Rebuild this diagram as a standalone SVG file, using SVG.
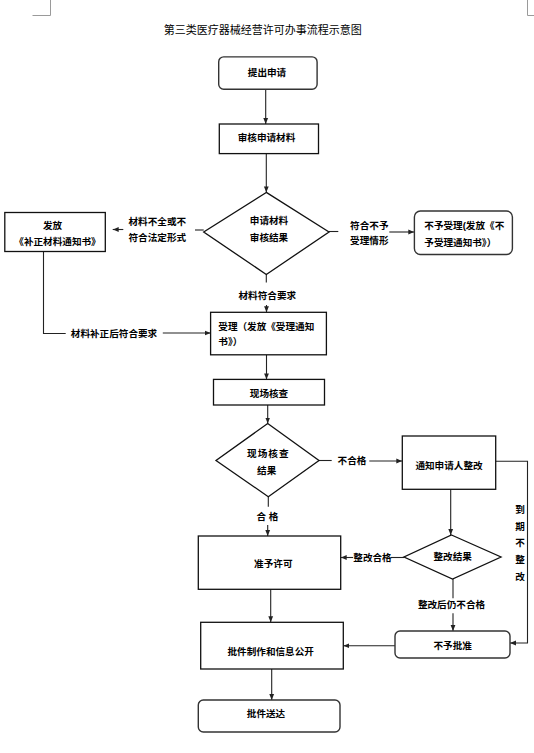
<svg xmlns="http://www.w3.org/2000/svg" width="534" height="753" viewBox="0 0 534 753">
<style>
.bg{fill:#fff}
.box{fill:#fff;stroke:#111;stroke-width:1.3}
.rbox{fill:#fff;stroke:#333;stroke-width:1.4}
.ln{fill:none;stroke:#222;stroke-width:1.1}
.mark{fill:none;stroke:#9a9a9a;stroke-width:1}
text{font-family:"Liberation Sans","Noto Sans CJK SC",sans-serif;font-size:9.6px;font-weight:bold;fill:#000;dominant-baseline:central}
.c{text-anchor:middle}
.title{font-size:11px;font-weight:normal}
</style>
<defs>
<marker id="arr" viewBox="0 0 10 10" refX="10" refY="5" markerWidth="6" markerHeight="6" markerUnits="userSpaceOnUse" orient="auto">
<path d="M0,1 L10,5 L0,9 z" fill="#222"/>
</marker>
</defs>
<rect class="bg" x="0" y="0" width="534" height="753"/>
<path class="mark" d="M32.5 15.5 H50.5 V0"/>
<path class="mark" d="M527.5 0 V15.5 H534"/>
<text class="title c" x="262.7" y="30">第三类医疗器械经营许可办事流程示意图</text>

<g id="connectors">
<path class="ln" d="M265.7 89.2 V124" marker-end="url(#arr)"/>
<path class="ln" d="M266.3 153.6 V192.4" marker-end="url(#arr)"/>
<path class="ln" d="M203.7 230 H195"/>
<path class="ln" d="M123.3 229.5 H112.7" marker-end="url(#arr)"/>
<path class="ln" d="M329 231.5 H338.3"/>
<path class="ln" d="M389.3 232 H414.3" marker-end="url(#arr)"/>
<path class="ln" d="M266.3 274.5 V282.6"/>
<path class="ln" d="M266.5 305 V312.3" marker-end="url(#arr)"/>
<path class="ln" d="M43.5 251.5 V333.5 H65.7"/>
<path class="ln" d="M162.8 333 H210.6" marker-end="url(#arr)"/>
<path class="ln" d="M266.5 354.8 V379.4" marker-end="url(#arr)"/>
<path class="ln" d="M267.7 405 V423.5" marker-end="url(#arr)"/>
<path class="ln" d="M319 460.5 H331.7"/>
<path class="ln" d="M369.3 461 H402.3" marker-end="url(#arr)"/>
<path class="ln" d="M268.3 496.7 V506.7"/>
<path class="ln" d="M267.7 525 V536" marker-end="url(#arr)"/>
<path class="ln" d="M495.7 461.3 H527.5 V643 H510" marker-end="url(#arr)"/>
<path class="ln" d="M450.7 489.3 V535" marker-end="url(#arr)"/>
<path class="ln" d="M404 557.5 H391"/>
<path class="ln" d="M353 557.5 H340.7" marker-end="url(#arr)"/>
<path class="ln" d="M453 579 V598.3"/>
<path class="ln" d="M453 613.3 V631" marker-end="url(#arr)"/>
<path class="ln" d="M395 645.7 H343.3" marker-end="url(#arr)"/>
<path class="ln" d="M270.7 589.3 V622.3" marker-end="url(#arr)"/>
<path class="ln" d="M271.7 669 V700" marker-end="url(#arr)"/>
<text class="c" x="157.3" y="221.3">材料不全或不</text>
<text class="c" x="157.3" y="237.5">符合法定形式</text>
<text class="c" x="369.3" y="225">符合不予</text>
<text class="c" x="369.3" y="240.7">受理情形</text>
<text class="c" x="267.3" y="295.6">材料符合要求</text>
<text class="c" x="114" y="333.5">材料补正后符合要求</text>
<text class="c" x="352" y="460">不合格</text>
<text class="c" x="267.5" y="516">合 格</text>
<text class="c" x="520" y="509">到</text>
<text class="c" x="520" y="526">期</text>
<text class="c" x="520" y="542.7">不</text>
<text class="c" x="520" y="559.3">整</text>
<text class="c" x="520" y="576">改</text>
<text class="c" x="372.5" y="557.7">整改合格</text>
<text class="c" x="451.5" y="604.3">整改后仍不合格</text>
</g>

<g id="n_submit">
<rect class="rbox" x="218.7" y="56.9" width="98.4" height="32.3" rx="5"/>
<text class="c" x="267" y="72">提出申请</text>
</g>
<g id="n_review">
<rect class="box" x="219.3" y="124" width="99.2" height="29.6"/>
<text class="c" x="266.5" y="137.5">审核申请材料</text>
</g>
<g id="n_result1">
<polygon class="box" points="266.3,192.4 329,232 266.3,274.5 203.7,232"/>
<text class="c" x="269" y="220">申请材料</text>
<text class="c" x="269" y="237">审核结果</text>
</g>
<g id="n_correct">
<rect class="box" x="4.8" y="212.5" width="100.5" height="39"/>
<text class="c" x="52.5" y="225">发放</text>
<text class="c" x="57.5" y="241">《补正材料通知书》</text>
</g>
<g id="n_reject">
<rect class="rbox" x="414.4" y="211" width="98" height="43.5" rx="6"/>
<text x="424.3" y="225">不予受理(发放《不</text>
<text x="424.3" y="242">予受理通知书》）</text>
</g>
<g id="n_accept">
<rect class="box" x="210.6" y="312.3" width="115.8" height="42.5"/>
<text x="218.3" y="326.7">受理（发放《受理通知</text>
<text x="218.3" y="341.7">书》）</text>
</g>
<g id="n_inspect">
<rect class="box" x="213.5" y="379.4" width="111" height="25.6"/>
<text class="c" x="269" y="393">现场核查</text>
</g>
<g id="n_result2">
<polygon class="box" points="267.7,423.5 319,460.5 268.3,496.7 216,460.5"/>
<text class="c" x="268.3" y="453.3" style="letter-spacing:1px">现场核查</text>
<text class="c" x="266.7" y="470.7">结果</text>
</g>
<g id="n_notify">
<rect class="box" x="402.3" y="436" width="93.4" height="53.3"/>
<text class="c" x="449" y="465.7">通知申请人整改</text>
</g>
<g id="n_approve">
<rect class="box" x="198.3" y="536" width="142.4" height="53.3"/>
<text class="c" x="273.3" y="563.3">准予许可</text>
</g>
<g id="n_result3">
<polygon class="box" points="451.5,535 501,557 452.5,579 404,557"/>
<text class="c" x="452.7" y="556.7">整改结果</text>
</g>
<g id="n_deny">
<rect class="rbox" x="395" y="631" width="115" height="27" rx="5"/>
<text class="c" x="452.7" y="645">不予批准</text>
</g>
<g id="n_make">
<rect class="box" x="200.7" y="622.3" width="142.6" height="46.7"/>
<text class="c" x="270.7" y="651.7">批件制作和信息公开</text>
</g>
<g id="n_deliver">
<rect class="rbox" x="198.3" y="700" width="141.7" height="32" rx="5"/>
<text class="c" x="266" y="713.3">批件送达</text>
</g>
</svg>
